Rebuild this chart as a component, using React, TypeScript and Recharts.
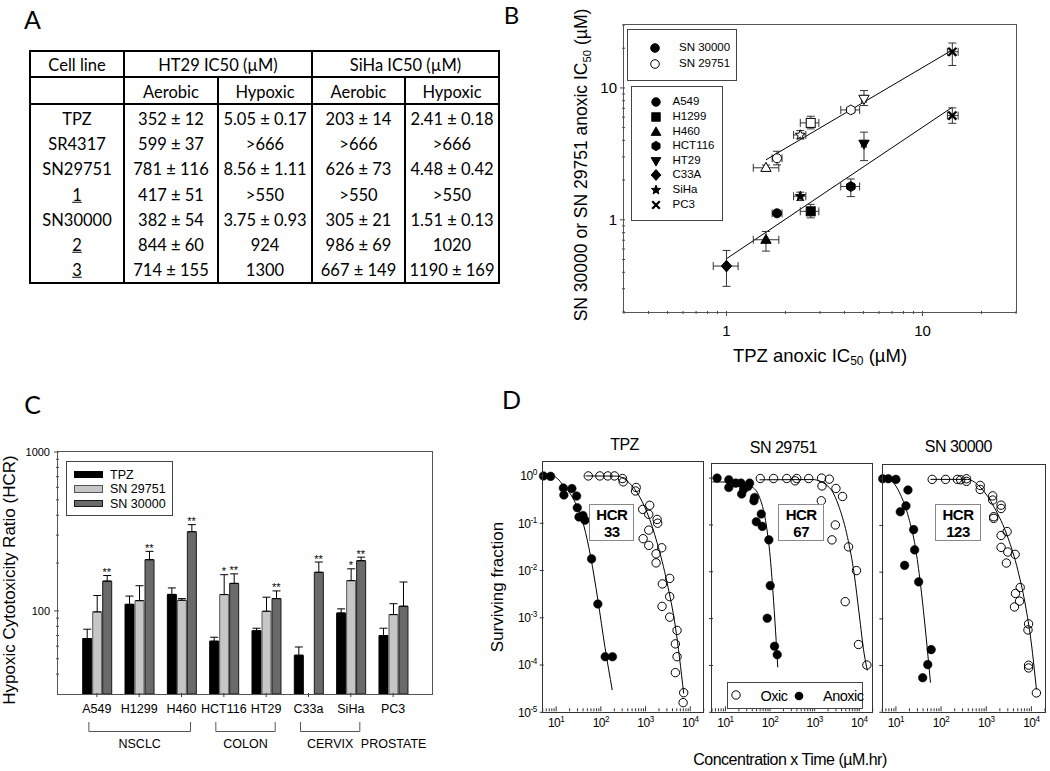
import React from 'react'
import { ComposedChart, Scatter, Line, Bar, XAxis, YAxis, ErrorBar } from 'recharts'

const W = 1050
const H = 771
const ARIAL = '"Liberation Sans", Arial, sans-serif'
const CALIBRI = 'Lato, "Open Sans", sans-serif'

// ---------- Panel A: IC50 table ----------
const tableCols = [30, 124, 218, 312, 405, 499]
const subHeads = ['Aerobic', 'Hypoxic', 'Aerobic', 'Hypoxic']
const compounds = ['TPZ', 'SR4317', 'SN29751', '1', 'SN30000', '2', '3']
const compoundUnderlined = [false, false, false, true, false, true, true]
const ht29Aerobic = ['352 ± 12', '599 ± 37', '781 ± 116', '417 ± 51', '382 ± 54', '844 ± 60', '714 ± 155']
const ht29Hypoxic = ['5.05 ± 0.17', '>666', '8.56 ± 1.11', '>550', '3.75 ± 0.93', '924', '1300']
const sihaAerobic = ['203 ± 14', '>666', '626 ± 73', '>550', '305 ± 21', '986 ± 69', '667 ± 149']
const sihaHypoxic = ['2.41 ± 0.18', '>666', '4.48 ± 0.42', '>550', '1.51 ± 0.13', '1020', '1190 ± 169']

// ---------- Panel B: anoxic IC50 correlation ----------
const cellLines = ['A549', 'H1299', 'H460', 'HCT116', 'HT29', 'C33A', 'SiHa', 'PC3']
const cellMarkers = ['circle', 'square', 'triangle', 'hexagon', 'triangleDown', 'diamond', 'star', 'cross']
const tpzIC50 = [1.81, 2.69, 1.59, 4.31, 5.03, 1.0, 2.38, 14.2]
const tpzIC50Lo = [1.71, 2.38, 1.37, 3.83, 4.88, 0.856, 2.2, 13.4]
const tpzIC50Hi = [1.92, 2.96, 1.85, 4.78, 5.17, 1.146, 2.54, 15.2]
const sn30000IC50 = [1.12, 1.16, 0.706, 1.79, 3.77, 0.446, 1.51, 6.17]
const sn30000Lo = [1.08, 1.035, 0.579, 1.5, 2.81, 0.313, 1.4, 5.39]
const sn30000Hi = [1.16, 1.31, 0.816, 2.04, 4.62, 0.586, 1.62, 7.06]
const sn29751IC50 = [2.93, 5.43, 2.48, 6.81, 8.26, null, 4.4, 18.8]
const sn29751Lo = [2.61, 4.89, 2.39, 6.5, 7.35, null, 4.11, 14.8]
const sn29751Hi = [3.31, 6.1, 2.6, 7.1, 9.55, null, 4.75, 21.9]
const fit30000X = [1.0, 14.2]
const fit30000Y = [0.507, 7.14]
const fit29751X = [1.59, 14.2]
const fit29751Y = [2.85, 19.4]
const bXTicks = [0.3, 0.4, 0.5, 0.6, 0.7, 0.8, 0.9, 1, 2, 3, 4, 5, 6, 7, 8, 9, 10, 20, 30]
const bYTicks = [0.2, 0.3, 0.4, 0.5, 0.6, 0.7, 0.8, 0.9, 1, 2, 3, 4, 5, 6, 7, 8, 9, 10, 20, 30]

// ---------- Panel C: hypoxic cytotoxicity ratio ----------
const hcrCells = ['A549', 'H1299', 'H460', 'HCT116', 'HT29', 'C33a', 'SiHa', 'PC3']
const hcrTPZ = [67, 110, 127, 64.5, 75, 52.6, 97, 70]
const hcrTPZTop = [76.7, 124, 139.5, 68.3, 77.8, 59.3, 103, 77.8]
const hcrSN29751 = [98.6, 116, 116.7, 126.7, 99.5, null, 155, 94.8]
const hcrSN29751Top = [125, 144, 119.5, 169, 122, null, 184, 111]
const hcrSN30000 = [154, 210, 315, 149, 119.5, 175, 207, 107]
const hcrSN30000Top = [167, 237, 349, 171, 133.6, 203, 218, 152]
const sigSN29751 = ['', '', '', '*', '', '', '*', '']
const sigSN30000 = ['**', '**', '**', '**', '**', '**', '**', '']
const tumourGroups = [
  { name: 'NSCLC', from: 0, to: 2 },
  { name: 'COLON', from: 3, to: 4 },
  { name: 'CERVIX', from: 5, to: 6 },
  { name: 'PROSTATE', from: 7, to: 7 },
]
const cYTicks = [40, 50, 60, 70, 80, 90, 100, 200, 300, 400, 500, 600, 700, 800, 900, 1000]

// ---------- Panel D: clonogenic survival ----------
const tpzAnoxicX = [5.2, 7.5, 14.5, 14.9, 22.5, 28.7, 29.7, 32.4, 39.7, 44, 62, 85.7, 125, 182]
const tpzAnoxicY = [1.0, 0.98, 0.556, 0.395, 0.54, 0.376, 0.213, 0.135, 0.146, 0.116, 0.0176, 0.00195, 0.00015, 0.00015]
const tpzAnoxicFitX = [5, 8.9, 14.9, 25, 41.8, 58.9, 85.7, 123, 180]
const tpzAnoxicFitY = [1.0, 0.97, 0.61, 0.31, 0.087, 0.02, 0.0024, 0.000245, 0.0000295]
const tpzOxicX = [52.4, 95, 143, 202, 305, 316, 617, 596, 865, 1240, 1180, 1180, 883, 1180, 1815, 1870, 1720, 1720, 2300, 3470, 2380, 3470, 2340, 3470, 5070, 4650, 5070, 4650, 7130, 6920]
const tpzOxicY = [1, 1, 1, 1, 0.88, 0.75, 0.57, 0.48, 0.196, 0.239, 0.154, 0.0714, 0.047, 0.034, 0.12, 0.1, 0.0225, 0.0145, 0.0302, 0.0068, 0.0052, 0.0028, 0.00174, 0.00103, 0.00054, 0.00028, 0.00015, 0.000069, 0.000026, 0.000016]
const tpzOxicFitX = [45.5, 232, 388, 650, 1086, 1815, 3035, 4650, 7130]
const tpzOxicFitY = [1, 0.99, 0.78, 0.44, 0.167, 0.0385, 0.0055, 0.00065, 0.000025]

const sn29751AnoxicX = [6.5, 11.9, 11.9, 17, 22.3, 23.1, 25.6, 32, 34.8, 45, 43.5, 63.6, 49.2, 67, 94, 101, 86.5, 126, 145]
const sn29751AnoxicY = [1.0, 0.92, 0.63, 0.78, 0.78, 0.456, 0.58, 0.66, 0.78, 0.386, 0.328, 0.171, 0.117, 0.093, 0.048, 0.00506, 0.00102, 0.000257, 0.00017]
const sn29751AnoxicFitX = [5.1, 20.8, 41.3, 58.3, 79.4, 101, 120, 137, 149]
const sn29751AnoxicFitY = [0.83, 0.82, 0.63, 0.386, 0.123, 0.0203, 0.0024, 0.00034, 0.000091]
const sn29751OxicX = [60.4, 120, 237, 365, 396, 735, 1430, 2130, 1460, 3000, 4220, 1410, 2900, 2440, 5740, 8660, 4840, 9590, 14800]
const sn29751OxicY = [0.98, 0.98, 0.98, 0.875, 0.98, 0.98, 1.0, 0.95, 0.68, 0.6, 0.405, 0.328, 0.1, 0.048, 0.034, 0.0106, 0.0023, 0.00028, 0.000102]
const sn29751OxicFitX = [58.3, 902, 2130, 3560, 5460, 7700, 9950, 12870, 15200]
const sn29751OxicFitY = [0.92, 0.93, 0.63, 0.236, 0.054, 0.00897, 0.00126, 0.000177, 0.000078]

const sn30000AnoxicX = [5.1, 6.8, 10, 18.5, 16.7, 12.5, 24.7, 26, 15.6, 31.9, 60.4, 50.7, 39.2]
const sn30000AnoxicY = [1.0, 1.0, 0.97, 0.575, 0.263, 0.196, 0.0815, 0.03, 0.014, 0.0062, 0.00022, 0.000105, 0.000055]
const sn30000AnoxicFitX = [5, 7.5, 12.5, 19.1, 27, 34.9, 42.8, 58.3]
const sn30000AnoxicFitY = [1.0, 0.925, 0.466, 0.149, 0.0343, 0.0057, 0.00095, 0.000043]
const sn30000OxicX = [63.6, 126, 230, 272, 365, 365, 735, 735, 1390, 1390, 2130, 2130, 1460, 1460, 2900, 2130, 2130, 3000, 4370, 2790, 4440, 5650, 5460, 4220, 8660, 8400, 8660, 8660, 12900]
const sn30000OxicY = [0.97, 0.97, 0.97, 0.95, 1.0, 0.88, 0.72, 0.59, 0.43, 0.35, 0.272, 0.231, 0.154, 0.142, 0.074, 0.061, 0.034, 0.027, 0.024, 0.0157, 0.0035, 0.0047, 0.0024, 0.0018, 0.00078, 0.00058, 0.000102, 0.000089, 0.000026]
const sn30000OxicFitX = [58.3, 384, 762, 1510, 3000, 5010, 7700, 9950, 12900]
const sn30000OxicFitY = [0.97, 0.97, 0.64, 0.242, 0.056, 0.011, 0.00155, 0.000305, 0.000031]

const dXTicks = [5, 6, 7, 8, 9, 10, 20, 30, 40, 50, 60, 70, 80, 90, 100, 200, 300, 400, 500, 600, 700, 800, 900, 1000, 2000, 3000, 4000, 5000, 6000, 7000, 8000, 9000, 10000, 20000]
const dYTicks = [0.00001, 0.0001, 0.001, 0.01, 0.1, 1]

// ---------- helpers ----------
const pts = (xs: number[], ys: number[]) => xs.map((x, i) => ({ x, y: ys[i] }))
const isDecade = (v: number) => Math.abs(Math.log10(v) - Math.round(Math.log10(v))) < 1e-6
// axes take 1px (a 0px axis is not drawn at all), so the margin is 1px less
const plotBox = (l: number, t: number, r: number, b: number) => ({ left: l - 1, top: t, right: W - r, bottom: H - b - 1 })

function powLabel(v: number, sup: number) {
  const e = Math.round(Math.log10(v))
  return [
    <tspan key="b">10</tspan>,
    <tspan key="e" dy={-5} fontSize={sup}>{e}</tspan>,
  ]
}

function BottomTick(props: any) {
  const { x, y, payload, showLabel, usePow, inward, labelSize, labelDy, majorLen, minorLen, tickColor } = props
  const v = payload.value
  const big = isDecade(v)
  const len = big ? majorLen : minorLen
  const y0 = y - 1
  return (
    <g>
      <line x1={x} x2={x} y1={y0} y2={inward ? y0 - len : y0 + len} stroke={tickColor} strokeWidth={1} />
      {big && showLabel && (
        <text x={x} y={y0 + labelDy} textAnchor="middle" fontSize={labelSize} fontFamily={ARIAL} fill="#000" stroke="none" letterSpacing={usePow ? -0.5 : 0}>
          {usePow ? powLabel(v, labelSize * 0.68) : String(v)}
        </text>
      )}
    </g>
  )
}

function LeftTick(props: any) {
  const { x, y, payload, showLabel, usePow, labelSize, labelGap, majorLen, minorLen, tickColor } = props
  const v = payload.value
  const big = isDecade(v)
  const len = big ? majorLen : minorLen
  const x0 = x + 1
  return (
    <g>
      <line x1={x0} x2={x0 - len} y1={y} y2={y} stroke={tickColor} strokeWidth={1} />
      {big && showLabel && (
        <text x={x0 - labelGap} y={y + labelSize * 0.36} textAnchor="end" fontSize={labelSize} fontFamily={ARIAL} fill="#000" stroke="none" letterSpacing={usePow ? -0.5 : 0}>
          {usePow ? powLabel(v, labelSize * 0.68) : String(v)}
        </text>
      )}
    </g>
  )
}

function CategoryTick({ x, y, payload }: any) {
  const y0 = y - 1
  return (
    <g>
      <line x1={x} x2={x} y1={y0} y2={y0 + 4} stroke="#333" strokeWidth={1} />
      <text x={x} y={y0 + 20} textAnchor="middle" fontSize={12.5} fontFamily={ARIAL} fill="#000" stroke="none">{payload.value}</text>
    </g>
  )
}

function Marker({ cx, cy, kind, filled, r = 4.5 }: any) {
  const p = { fill: filled ? '#000' : '#fff', stroke: '#000', strokeWidth: 1 }
  const poly = (q: number[][]) => <polygon points={q.map((d) => `${cx + d[0]},${cy + d[1]}`).join(' ')} {...p} />
  switch (kind) {
    case 'square':
      return <rect x={cx - r} y={cy - r} width={2 * r} height={2 * r} {...p} />
    case 'triangle':
      return poly([[0, -r * 1.2], [r * 1.15, r * 0.8], [-r * 1.15, r * 0.8]])
    case 'triangleDown':
      return poly([[0, r * 1.2], [r * 1.15, -r * 0.8], [-r * 1.15, -r * 0.8]])
    case 'diamond':
      return poly([[0, -r * 1.3], [r * 1.15, 0], [0, r * 1.3], [-r * 1.15, 0]])
    case 'hexagon':
      return poly([0, 1, 2, 3, 4, 5].map((k) => [r * 1.1 * Math.cos((Math.PI / 3) * k - Math.PI / 2), r * 1.1 * Math.sin((Math.PI / 3) * k - Math.PI / 2)]))
    case 'star':
      return poly(
        [0, 1, 2, 3, 4, 5, 6, 7, 8, 9].map((k) => {
          const rr = k % 2 === 0 ? r * 1.15 : r * 0.5
          const a = (Math.PI / 5) * k - Math.PI / 2
          return [rr * Math.cos(a), rr * Math.sin(a)]
        })
      )
    case 'cross':
      return (
        <g stroke="#000" strokeWidth={2.3}>
          <line x1={cx - r * 0.9} y1={cy - r * 0.9} x2={cx + r * 0.9} y2={cy + r * 0.9} />
          <line x1={cx - r * 0.9} y1={cy + r * 0.9} x2={cx + r * 0.9} y2={cy - r * 0.9} />
        </g>
      )
    default:
      return <circle cx={cx} cy={cy} r={r} {...p} />
  }
}

const Txt = ({ x, y, size, children, weight, family = ARIAL, anchor = 'middle', rotate, ls, style }: any) => {
  const tx = anchor === 'middle' ? '-50%' : anchor === 'end' ? '-100%' : '0'
  return (
    <div
      style={{
        position: 'absolute',
        left: x,
        top: y,
        transform: `translate(${tx}, -50%)${rotate ? ` rotate(${rotate}deg)` : ''}`,
        fontSize: size,
        fontFamily: family,
        fontWeight: weight,
        lineHeight: 1,
        whiteSpace: 'nowrap',
        letterSpacing: ls,
        color: '#000',
        ...style,
      }}
    >
      {children}
    </div>
  )
}

const Frame = ({ l, t, r, b, color = '#444', w = 1.3 }: any) => (
  <div
    style={{
      position: 'absolute',
      left: l - w / 2,
      top: t - w / 2,
      width: r - l + w,
      height: b - t + w,
      border: `${w}px solid ${color}`,
      boxSizing: 'border-box',
      pointerEvents: 'none',
    }}
  />
)

const Layer = ({ children }: any) => <div style={{ position: 'absolute', left: 0, top: 0 }}>{children}</div>

const sub50 = <sub style={{ fontSize: '0.65em', verticalAlign: '-0.3em', lineHeight: 0 }}>50</sub>

// ---------- Panel A ----------
function TableA() {
  const top = 51
  const bottom = 283
  const rule = (x1: number, x2: number, y: number, w: number, k: string) => (
    <div key={k} style={{ position: 'absolute', left: x1, top: y - w / 2, width: x2 - x1, height: w, background: '#000' }} />
  )
  const vrule = (x: number, y1: number, y2: number, w: number, k: string) => (
    <div key={k} style={{ position: 'absolute', left: x - w / 2, top: y1, width: w, height: y2 - y1, background: '#000' }} />
  )
  const colMid = (i: number) => (tableCols[i] + tableCols[i + 1]) / 2
  const rowMid = (i: number) => 106 + 25.3 * (i + 0.5)
  const cols = [ht29Aerobic, ht29Hypoxic, sihaAerobic, sihaHypoxic]
  return (
    <>
      <div style={{ position: 'absolute', left: 29, top: 50, width: 471, height: 234, border: '2px solid #000', boxSizing: 'border-box' }} />
      {rule(30, 499, 77, 2, 'h1')}
      {rule(30, 499, 104, 2, 'h2')}
      {vrule(124, top, bottom, 1.6, 'v1')}
      {vrule(312, top, bottom, 1.6, 'v3')}
      {vrule(218, 77, bottom, 1.6, 'v2')}
      {vrule(405, 77, bottom, 1.6, 'v4')}
      <Txt x={colMid(0)} y={65} size={16.5} family={CALIBRI}>Cell line</Txt>
      <Txt x={218} y={65} size={16.5} family={CALIBRI}>HT29 IC50 (µM)</Txt>
      <Txt x={405.5} y={65} size={16.5} family={CALIBRI}>SiHa IC50 (µM)</Txt>
      {subHeads.map((s, i) => (
        <Txt key={s + i} x={colMid(i + 1)} y={92} size={16.5} family={CALIBRI}>{s}</Txt>
      ))}
      {compounds.map((c, r) => (
        <React.Fragment key={c}>
          <Txt x={colMid(0)} y={rowMid(r)} size={16.5} family={CALIBRI} style={{ textDecoration: compoundUnderlined[r] ? 'underline' : 'none' }}>
            {c}
          </Txt>
          {cols.map((col, j) => (
            <Txt key={j} x={colMid(j + 1)} y={rowMid(r)} size={16.5} family={CALIBRI}>{col[r]}</Txt>
          ))}
        </React.Fragment>
      ))}
    </>
  )
}

// ---------- Panel B ----------
function ChartB() {
  const pB = { l: 624, t: 25, r: 1016, b: 312 }
  const ptsB = (ys: (number | null)[], lo: (number | null)[], hi: (number | null)[]) =>
    cellLines
      .map((c, i) => ({
        name: c,
        kind: cellMarkers[i],
        x: tpzIC50[i],
        y: ys[i],
        ex: [tpzIC50[i] - tpzIC50Lo[i], tpzIC50Hi[i] - tpzIC50[i]],
        ey: ys[i] == null ? null : [(ys[i] as number) - (lo[i] as number), (hi[i] as number) - (ys[i] as number)],
      }))
      .filter((d) => d.y != null)
  const filledPts = ptsB(sn30000IC50, sn30000Lo, sn30000Hi)
  const openPts = ptsB(sn29751IC50, sn29751Lo, sn29751Hi)
  return (
    <>
      <Layer>
        <ComposedChart width={W} height={H} margin={plotBox(pB.l, pB.t, pB.r, pB.b)}>
          <XAxis
            dataKey="x"
            type="number"
            scale="log"
            domain={[0.3, 30]}
            ticks={bXTicks}
            interval={0}
            height={1}
            tickSize={0}
            tickMargin={0}
            axisLine={false}
            tickLine={false}
            tick={<BottomTick showLabel labelSize={15} labelDy={25} majorLen={5} minorLen={3} tickColor="#444" />}
          />
          <YAxis
            dataKey="y"
            type="number"
            scale="log"
            domain={[0.2, 30]}
            ticks={bYTicks}
            interval={0}
            width={1}
            tickSize={0}
            tickMargin={0}
            axisLine={false}
            tickLine={false}
            tick={<LeftTick showLabel labelSize={15} labelGap={8} majorLen={5} minorLen={3} tickColor="#444" />}
          />
          <Line data={pts(fit30000X, fit30000Y)} dataKey="y" type="linear" dot={false} stroke="#000" strokeWidth={1} isAnimationActive={false} />
          <Line data={pts(fit29751X, fit29751Y)} dataKey="y" type="linear" dot={false} stroke="#000" strokeWidth={1} isAnimationActive={false} />
          <Scatter data={filledPts} dataKey="y" isAnimationActive={false} shape={(p: any) => <Marker cx={p.cx} cy={p.cy} kind={p.payload.kind} filled />}>
            <ErrorBar dataKey="ex" direction="x" width={4} stroke="#333" strokeWidth={1} />
            <ErrorBar dataKey="ey" direction="y" width={4} stroke="#333" strokeWidth={1} />
          </Scatter>
          <Scatter data={openPts} dataKey="y" isAnimationActive={false} shape={(p: any) => <Marker cx={p.cx} cy={p.cy} kind={p.payload.kind} filled={false} />}>
            <ErrorBar dataKey="ex" direction="x" width={4} stroke="#333" strokeWidth={1} />
            <ErrorBar dataKey="ey" direction="y" width={4} stroke="#333" strokeWidth={1} />
          </Scatter>
        </ComposedChart>
      </Layer>
      <Frame {...pB} color="#555" w={1.4} />
      <Txt x={582} y={165} size={17.5} rotate={-90}>
        SN 30000 or SN 29751 anoxic IC{sub50} (µM)
      </Txt>
      <Txt x={820} y={356} size={18.5}>
        TPZ anoxic IC{sub50} (µM)
      </Txt>
      <div style={{ position: 'absolute', left: 627, top: 29, width: 110, height: 52, border: '1px solid #444', boxSizing: 'border-box', background: '#fff' }} />
      {[
        { label: 'SN 30000', filled: true, y: 47.5 },
        { label: 'SN 29751', filled: false, y: 63.5 },
      ].map((d) => (
        <React.Fragment key={d.label}>
          <svg style={{ position: 'absolute', left: 649, top: d.y - 6 }} width={12} height={12}>
            <Marker cx={6} cy={6} kind="circle" filled={d.filled} r={4.3} />
          </svg>
          <Txt x={679} y={d.y} size={11.5} anchor="start">{d.label}</Txt>
        </React.Fragment>
      ))}
      <div style={{ position: 'absolute', left: 631, top: 86, width: 92, height: 135, border: '1px solid #444', boxSizing: 'border-box', background: '#fff' }} />
      {cellLines.map((c, i) => (
        <React.Fragment key={c}>
          <svg style={{ position: 'absolute', left: 649, top: 102.3 + 14.6 * i - 7 }} width={14} height={14}>
            <Marker cx={7} cy={7} kind={cellMarkers[i]} filled r={4.2} />
          </svg>
          <Txt x={672.5} y={102.3 + 14.6 * i} size={11.5} anchor="start">{c}</Txt>
        </React.Fragment>
      ))}
    </>
  )
}

// ---------- Panel C ----------
function ChartC() {
  const pC = { l: 58, t: 452, r: 432, b: 694 }
  const pad = 17.7
  const band = (pC.r - pC.l - 2 * pad) / hcrCells.length
  const center = (i: number) => pC.l + pad + band * (i + 0.5)
  const rows = hcrCells.map((c, i) => ({
    cell: c,
    tpz: hcrTPZ[i],
    tpzErr: [0, hcrTPZTop[i] - hcrTPZ[i]],
    s29: hcrSN29751[i],
    s29Err: hcrSN29751[i] == null ? null : [0, (hcrSN29751Top[i] as number) - (hcrSN29751[i] as number)],
    s30: hcrSN30000[i],
    s30Err: [0, hcrSN30000Top[i] - hcrSN30000[i]],
    s29Star: sigSN29751[i] ? hcrSN29751Top[i] : null,
    s29Sig: sigSN29751[i],
    s30Star: sigSN30000[i] ? hcrSN30000Top[i] : null,
    s30Sig: sigSN30000[i],
  }))
  const starDot = (offset: number, key: string) => (p: any) => {
    const txt = p.payload ? p.payload[key] : ''
    if (p.cy == null || !txt) return <g key={`${key}-${p.index}`} />
    return (
      <text key={`${key}-${p.index}`} x={p.cx + offset} y={p.cy + 0.5} textAnchor="middle" fontSize={11} fontFamily={ARIAL} fill="#000" stroke="none">
        {txt}
      </text>
    )
  }
  const legend = [
    { label: 'TPZ', fill: '#000', stroke: '#000' },
    { label: 'SN 29751', fill: '#c6c6c6', stroke: '#555' },
    { label: 'SN 30000', fill: '#6a6a6a', stroke: '#1a1a1a' },
  ]
  return (
    <>
      <Layer>
        <ComposedChart width={W} height={H} data={rows} margin={plotBox(pC.l, pC.t, pC.r, pC.b)} barSize={9} barGap={1}>
          <XAxis
            dataKey="cell"
            type="category"
            padding={{ left: pad, right: pad }}
            interval={0}
            height={1}
            tickSize={0}
            tickMargin={0}
            axisLine={false}
            tickLine={false}
            tick={<CategoryTick />}
          />
          <YAxis
            type="number"
            scale="log"
            domain={[30, 1000]}
            ticks={cYTicks}
            interval={0}
            width={1}
            tickSize={0}
            tickMargin={0}
            axisLine={false}
            tickLine={false}
            tick={<LeftTick showLabel labelSize={11} labelGap={9} majorLen={5} minorLen={3} tickColor="#444" />}
          />
          <Bar dataKey="tpz" fill="#000" stroke="#000" strokeWidth={1} isAnimationActive={false}>
            <ErrorBar dataKey="tpzErr" direction="y" width={4} stroke="#000" strokeWidth={1} />
          </Bar>
          <Bar dataKey="s29" fill="#c6c6c6" stroke="#555" strokeWidth={1} isAnimationActive={false}>
            <ErrorBar dataKey="s29Err" direction="y" width={4} stroke="#000" strokeWidth={1} />
          </Bar>
          <Bar dataKey="s30" fill="#6a6a6a" stroke="#1a1a1a" strokeWidth={1} isAnimationActive={false}>
            <ErrorBar dataKey="s30Err" direction="y" width={4} stroke="#000" strokeWidth={1} />
          </Bar>
          <Line dataKey="s29Star" stroke="none" dot={starDot(0, 's29Sig')} activeDot={false} isAnimationActive={false} />
          <Line dataKey="s30Star" stroke="none" dot={starDot(10, 's30Sig')} activeDot={false} isAnimationActive={false} />
        </ComposedChart>
      </Layer>
      <Frame {...pC} color="#555" w={1.3} />
      <Txt x={9} y={580} size={17} rotate={-90}>Hypoxic Cytotoxicity Ratio (HCR)</Txt>
      <div style={{ position: 'absolute', left: 66, top: 461, width: 107, height: 55, border: '1px solid #444', boxSizing: 'border-box', background: '#fff' }} />
      {legend.map((d, i) => (
        <React.Fragment key={d.label}>
          <div style={{ position: 'absolute', left: 73.5, top: 474.5 + 14.5 * i - 3.8, width: 29, height: 7.6, background: d.fill, border: `1px solid ${d.stroke}`, boxSizing: 'border-box' }} />
          <Txt x={110} y={474.5 + 14.5 * i} size={12.5} anchor="start">{d.label}</Txt>
        </React.Fragment>
      ))}
      <svg style={{ position: 'absolute', left: 0, top: 0 }} width={W} height={H}>
        {tumourGroups
          .filter((g) => g.to > g.from)
          .map((g) => {
            const x1 = center(g.from) - 8
            const x2 = center(g.to) + 9
            return (
              <path key={g.name} d={`M${x1},722 L${x1},731.5 L${x2},731.5 L${x2},722`} fill="none" stroke="#555" strokeWidth={1} />
            )
          })}
      </svg>
      {tumourGroups.map((g) => (
        <Txt key={g.name} x={(center(g.from) + center(g.to)) / 2 + 0.5} y={743.5} size={12.5}>{g.name}</Txt>
      ))}
    </>
  )
}

// ---------- Panel D ----------
function SurvivalPlot({ box, oxic, anoxic, oxicFit, anoxicFit, yLabels }: any) {
  return (
    <>
      <Layer>
        <ComposedChart width={W} height={H} margin={plotBox(box.l, box.t, box.r, box.b)}>
          <XAxis
            dataKey="x"
            type="number"
            scale="log"
            domain={[5, 20000]}
            ticks={dXTicks}
            interval={0}
            height={1}
            tickSize={0}
            tickMargin={0}
            axisLine={false}
            tickLine={false}
            tick={<BottomTick showLabel usePow inward labelSize={12} labelDy={16} majorLen={5} minorLen={3} tickColor="#333" />}
          />
          <YAxis
            dataKey="y"
            type="number"
            scale="log"
            domain={[0.00001, 2]}
            ticks={dYTicks}
            interval={0}
            width={1}
            tickSize={0}
            tickMargin={0}
            axisLine={false}
            tickLine={false}
            tick={<LeftTick showLabel={yLabels} usePow labelSize={12} labelGap={7} majorLen={4} minorLen={4} tickColor="#333" />}
          />
          <Line data={oxicFit} dataKey="y" type="monotone" dot={false} stroke="#000" strokeWidth={1} isAnimationActive={false} />
          <Line data={anoxicFit} dataKey="y" type="monotone" dot={false} stroke="#000" strokeWidth={1} isAnimationActive={false} />
          <Scatter data={oxic} dataKey="y" isAnimationActive={false} shape={(p: any) => <circle cx={p.cx} cy={p.cy} r={4.2} fill="none" stroke="#000" strokeWidth={1} />} />
          <Scatter data={anoxic} dataKey="y" isAnimationActive={false} shape={(p: any) => <circle cx={p.cx} cy={p.cy} r={4.3} fill="#000" stroke="#000" strokeWidth={0.5} />} />
        </ComposedChart>
      </Layer>
      <Frame {...box} color="#333" w={1.5} />
    </>
  )
}

function PanelD() {
  const boxes = [
    { l: 542.7, t: 461.7, r: 703.7, b: 712.3 },
    { l: 712, t: 464, r: 872.7, b: 712.3 },
    { l: 882.3, t: 464.7, r: 1045, b: 712.3 },
  ]
  const hcrBoxes = [
    { l: 589.3, r: 634.3, v: '33' },
    { l: 778.3, r: 824, v: '67' },
    { l: 935, r: 981, v: '123' },
  ]
  return (
    <>
      <SurvivalPlot box={boxes[0]} yLabels oxic={pts(tpzOxicX, tpzOxicY)} anoxic={pts(tpzAnoxicX, tpzAnoxicY)} oxicFit={pts(tpzOxicFitX, tpzOxicFitY)} anoxicFit={pts(tpzAnoxicFitX, tpzAnoxicFitY)} />
      <SurvivalPlot box={boxes[1]} yLabels={false} oxic={pts(sn29751OxicX, sn29751OxicY)} anoxic={pts(sn29751AnoxicX, sn29751AnoxicY)} oxicFit={pts(sn29751OxicFitX, sn29751OxicFitY)} anoxicFit={pts(sn29751AnoxicFitX, sn29751AnoxicFitY)} />
      <SurvivalPlot box={boxes[2]} yLabels={false} oxic={pts(sn30000OxicX, sn30000OxicY)} anoxic={pts(sn30000AnoxicX, sn30000AnoxicY)} oxicFit={pts(sn30000OxicFitX, sn30000OxicFitY)} anoxicFit={pts(sn30000AnoxicFitX, sn30000AnoxicFitY)} />
      <Txt x={624.5} y={445} size={16} ls={-0.5}>TPZ</Txt>
      <Txt x={783.3} y={448} size={16} ls={-0.5}>SN 29751</Txt>
      <Txt x={958.3} y={446.5} size={16} ls={-0.5}>SN 30000</Txt>
      {hcrBoxes.map((b) => (
        <div
          key={b.v}
          style={{
            position: 'absolute',
            left: b.l,
            top: 504.3,
            width: b.r - b.l,
            height: 36.5,
            border: '1px solid #888',
            boxSizing: 'border-box',
            background: '#fff',
            fontFamily: ARIAL,
            fontWeight: 700,
            fontSize: 15,
            letterSpacing: -0.5,
            lineHeight: '17px',
            textAlign: 'center',
            paddingTop: 1,
          }}
        >
          HCR
          <br />
          {b.v}
        </div>
      ))}
      <div style={{ position: 'absolute', left: 727.3, top: 681.7, width: 136, height: 27, border: '1px solid #444', boxSizing: 'border-box', background: '#fff' }} />
      <svg style={{ position: 'absolute', left: 730, top: 689 }} width={12} height={12}>
        <circle cx={6} cy={6} r={4.2} fill="none" stroke="#000" strokeWidth={1} />
      </svg>
      <Txt x={760.5} y={695.5} size={14.5} anchor="start" ls={-0.5}>Oxic</Txt>
      <svg style={{ position: 'absolute', left: 793.3, top: 690 }} width={12} height={12}>
        <circle cx={6} cy={6} r={4.3} fill="#000" />
      </svg>
      <Txt x={823} y={695.5} size={14.5} anchor="start" ls={-0.5}>Anoxic</Txt>
      <Txt x={497} y={587} size={17} rotate={-90}>Surviving fraction</Txt>
      <Txt x={790} y={760} size={16} ls={-0.5}>Concentration x Time (µM.hr)</Txt>
    </>
  )
}

export default function App() {
  return (
    <div style={{ position: 'absolute', left: 0, top: 0, width: W, height: H, background: '#fff', overflow: 'hidden', fontFamily: ARIAL }}>
      <Txt x={32.5} y={19} size={25} family={CALIBRI}>A</Txt>
      <Txt x={511.5} y={15} size={24} family={CALIBRI}>B</Txt>
      <Txt x={32.5} y={404} size={25} family={CALIBRI}>C</Txt>
      <Txt x={511.5} y={399} size={25} family={CALIBRI}>D</Txt>
      <TableA />
      <ChartB />
      <ChartC />
      <PanelD />
    </div>
  )
}
